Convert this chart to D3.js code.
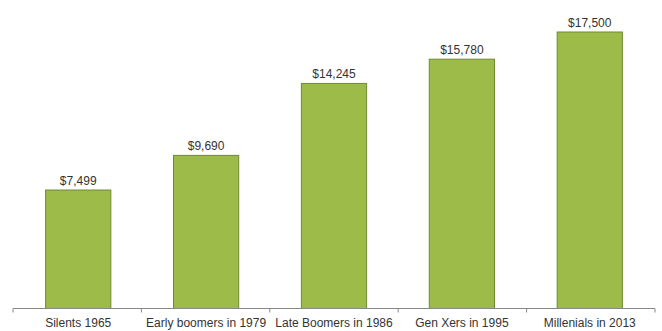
<!DOCTYPE html>
<html>
<head>
<meta charset="utf-8">
<script src="https://cdn.jsdelivr.net/npm/d3@7"></script>
<style>
  html, body { margin: 0; padding: 0; background: #fff; }
  svg { display: block; }
  text { font-family: "Liberation Sans", Arial, sans-serif; fill: #333; }
</style>
</head>
<body>
<svg id="chart" width="662" height="331"></svg>
<script>
// Spending per generation, by the year each cohort was in its prime
const categories = ["Silents 1965", "Early boomers in 1979", "Late Boomers in 1986", "Gen Xers in 1995", "Millenials in 2013"];
const values = [7499, 9690, 14245, 15780, 17500];
const valueLabels = ["$7,499", "$9,690", "$14,245", "$15,780", "$17,500"];

const svg = d3.select("#chart");
const left = 13, right = 655, baseline = 308.5;

const x = d3.scaleBand()
  .domain(categories)
  .range([left, right])
  .paddingInner(0.49)
  .paddingOuter(0.255);

const y = d3.scaleLinear()
  .domain([0, 17500])
  .range([baseline, 32]);

// bars
svg.selectAll("rect.bar")
  .data(values)
  .join("rect")
  .attr("class", "bar")
  .attr("x", (d, i) => x(categories[i]))
  .attr("y", d => y(d))
  .attr("width", x.bandwidth())
  .attr("height", d => baseline - y(d))
  .attr("fill", "#9cbb48")
  .attr("stroke", "#6f8a2e")
  .attr("stroke-width", 1);

// value labels
svg.selectAll("text.val")
  .data(values)
  .join("text")
  .attr("class", "val")
  .attr("x", (d, i) => x(categories[i]) + x.bandwidth() / 2)
  .attr("y", d => y(d) - 5)
  .attr("text-anchor", "middle")
  .attr("font-size", 12)
  .text((d, i) => valueLabels[i]);

// category axis with boundary ticks
const bounds = d3.range(categories.length + 1).map(i => left + i * (right - left) / categories.length);
const axis = svg.append("g");
axis.append("line")
  .attr("x1", left).attr("x2", right)
  .attr("y1", baseline).attr("y2", baseline)
  .attr("stroke", "#888").attr("stroke-width", 1);
axis.selectAll("line.tick")
  .data(bounds)
  .join("line")
  .attr("class", "tick")
  .attr("x1", d => d).attr("x2", d => d)
  .attr("y1", baseline).attr("y2", baseline + 4)
  .attr("stroke", "#888");
axis.selectAll("text.cat")
  .data(categories)
  .join("text")
  .attr("class", "cat")
  .attr("x", d => x(d) + x.bandwidth() / 2)
  .attr("y", 327)
  .attr("text-anchor", "middle")
  .attr("font-size", 12)
  .text(d => d);
</script>
</body>
</html>
